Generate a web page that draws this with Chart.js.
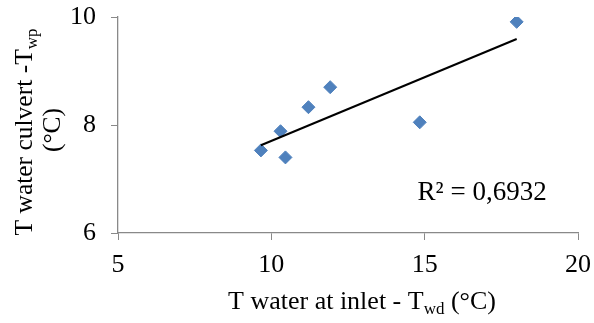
<!DOCTYPE html>
<html><head><meta charset="utf-8">
<script src="https://cdn.jsdelivr.net/npm/chart.js@4/dist/chart.umd.min.js"></script>
<style>html,body{margin:0;padding:0;background:#fff;} #wrap{width:594px;height:323px;}</style>
</head><body><div id="wrap"><canvas id="c" width="594" height="323"></canvas></div>
<script>
// ---- data ----
const inletTemps   = [9.66, 10.30, 10.46, 11.21, 11.92, 14.84, 18.00];
const culvertTemps = [7.53, 7.885, 7.40, 8.33, 8.70, 8.05, 9.91];
const xTicks = [5, 10, 15, 20];
const yTicks = [6, 8, 10];
const xTitleParts  = [{t: 'T water at inlet - T'}, {t: 'wd', sub: true}, {t: ' (°C)'}];
const yTitleLine1  = [{t: 'T water culvert -T'}, {t: 'wp', sub: true}];
const yTitleLine2  = [{t: '(°C)'}];
const r2Label = 'R² = 0,6932';
const r2Pos = {x: 14.77, y: 6.61};

// ---- styling ----
const FONT = 'Liberation Serif, Times New Roman, serif';
const FS = 26, SUBFS = 17, SUBOFF = 5;
const YFS = 25.5, YSUBFS = 17;
const R2FS = 27;
const AXIS = '#898989';
const BLUE = '#4F81BD';

// linear trendline (least squares)
function fit(xs, ys) {
  const n = xs.length;
  const mx = xs.reduce((a, b) => a + b, 0) / n, my = ys.reduce((a, b) => a + b, 0) / n;
  let sxy = 0, sxx = 0;
  for (let i = 0; i < n; i++) { sxy += (xs[i] - mx) * (ys[i] - my); sxx += (xs[i] - mx) ** 2; }
  const m = sxy / sxx; return {m, b: my - m * mx};
}
const lf = fit(inletTemps, culvertTemps);
const xMin = Math.min(...inletTemps), xMax = Math.max(...inletTemps);
const trend = [{x: xMin, y: lf.m * xMin + lf.b}, {x: xMax, y: lf.m * xMax + lf.b}];
const points = inletTemps.map((x, i) => ({x, y: culvertTemps[i]}));

function richWidth(ctx, parts, fs, sfs) {
  let w = 0;
  for (const p of parts) { ctx.font = (p.sub ? sfs : fs) + 'px ' + FONT; w += ctx.measureText(p.t).width; }
  return w;
}
function drawRich(ctx, parts, cx, baseY, fs, sfs) {
  let x = cx - richWidth(ctx, parts, fs, sfs) / 2;
  ctx.textAlign = 'left'; ctx.textBaseline = 'alphabetic'; ctx.fillStyle = '#000';
  for (const p of parts) {
    ctx.font = (p.sub ? sfs : fs) + 'px ' + FONT;
    ctx.fillText(p.t, x, baseY + (p.sub ? SUBOFF : 0));
    x += ctx.measureText(p.t).width;
  }
}

const titles = {
  id: 'titles',
  afterDraw(chart) {
    const ctx = chart.ctx, xs = chart.scales.x, ys = chart.scales.y;
    ctx.save();
    // x title
    drawRich(ctx, xTitleParts, 362, 309, FS, SUBFS);
    // y title (rotated)
    ctx.save(); ctx.translate(32, 132); ctx.rotate(-Math.PI / 2);
    drawRich(ctx, yTitleLine1, 0, 0, YFS, YSUBFS);
    ctx.restore();
    ctx.save(); ctx.translate(60, 130); ctx.rotate(-Math.PI / 2);
    drawRich(ctx, yTitleLine2, 0, 0, YFS, YSUBFS);
    ctx.restore();
    // R² label
    ctx.font = R2FS + 'px ' + FONT; ctx.fillStyle = '#000'; ctx.textAlign = 'left'; ctx.textBaseline = 'alphabetic';
    ctx.fillText(r2Label, xs.getPixelForValue(r2Pos.x), ys.getPixelForValue(r2Pos.y));
    ctx.restore();
  }
};

new Chart(document.getElementById('c'), {
  type: 'scatter',
  data: {
    datasets: [
      {data: trend, showLine: true, borderColor: '#000', borderWidth: 2, pointRadius: 0, fill: false},
      {data: points, pointStyle: 'rectRot', pointRadius: 6.5, backgroundColor: BLUE, borderColor: BLUE, borderWidth: 1}
    ]
  },
  options: {
    responsive: false, animation: false,
    layout: {padding: {top: 17, right: 16, left: 0, bottom: 0}},
    plugins: {legend: {display: false}, tooltip: {enabled: false}},
    scales: {
      x: {
        type: 'linear', min: 5, max: 20,
        afterBuildTicks: s => { s.ticks = xTicks.map(v => ({value: v})); },
        afterFit: s => { s.height = 90; s.paddingLeft = 0; s.paddingRight = 0; },
        grid: {display: true, drawOnChartArea: false, drawTicks: true, tickLength: 7, color: AXIS, lineWidth: 1},
        border: {display: true, color: AXIS, width: 1.3},
        ticks: {color: '#000', padding: 10, maxRotation: 0, font: {family: FONT, size: FS}}
      },
      y: {
        type: 'linear', min: 6, max: 10,
        afterBuildTicks: s => { s.ticks = yTicks.map(v => ({value: v})); },
        afterFit: s => { s.width = 118; s.paddingTop = 0; s.paddingBottom = 0; },
        grid: {display: true, drawOnChartArea: false, drawTicks: true, tickLength: 7, color: AXIS, lineWidth: 1},
        border: {display: true, color: AXIS, width: 1.3},
        ticks: {color: '#000', padding: 15, font: {family: FONT, size: FS}}
      }
    }
  },
  plugins: [titles]
});
</script></body></html>
